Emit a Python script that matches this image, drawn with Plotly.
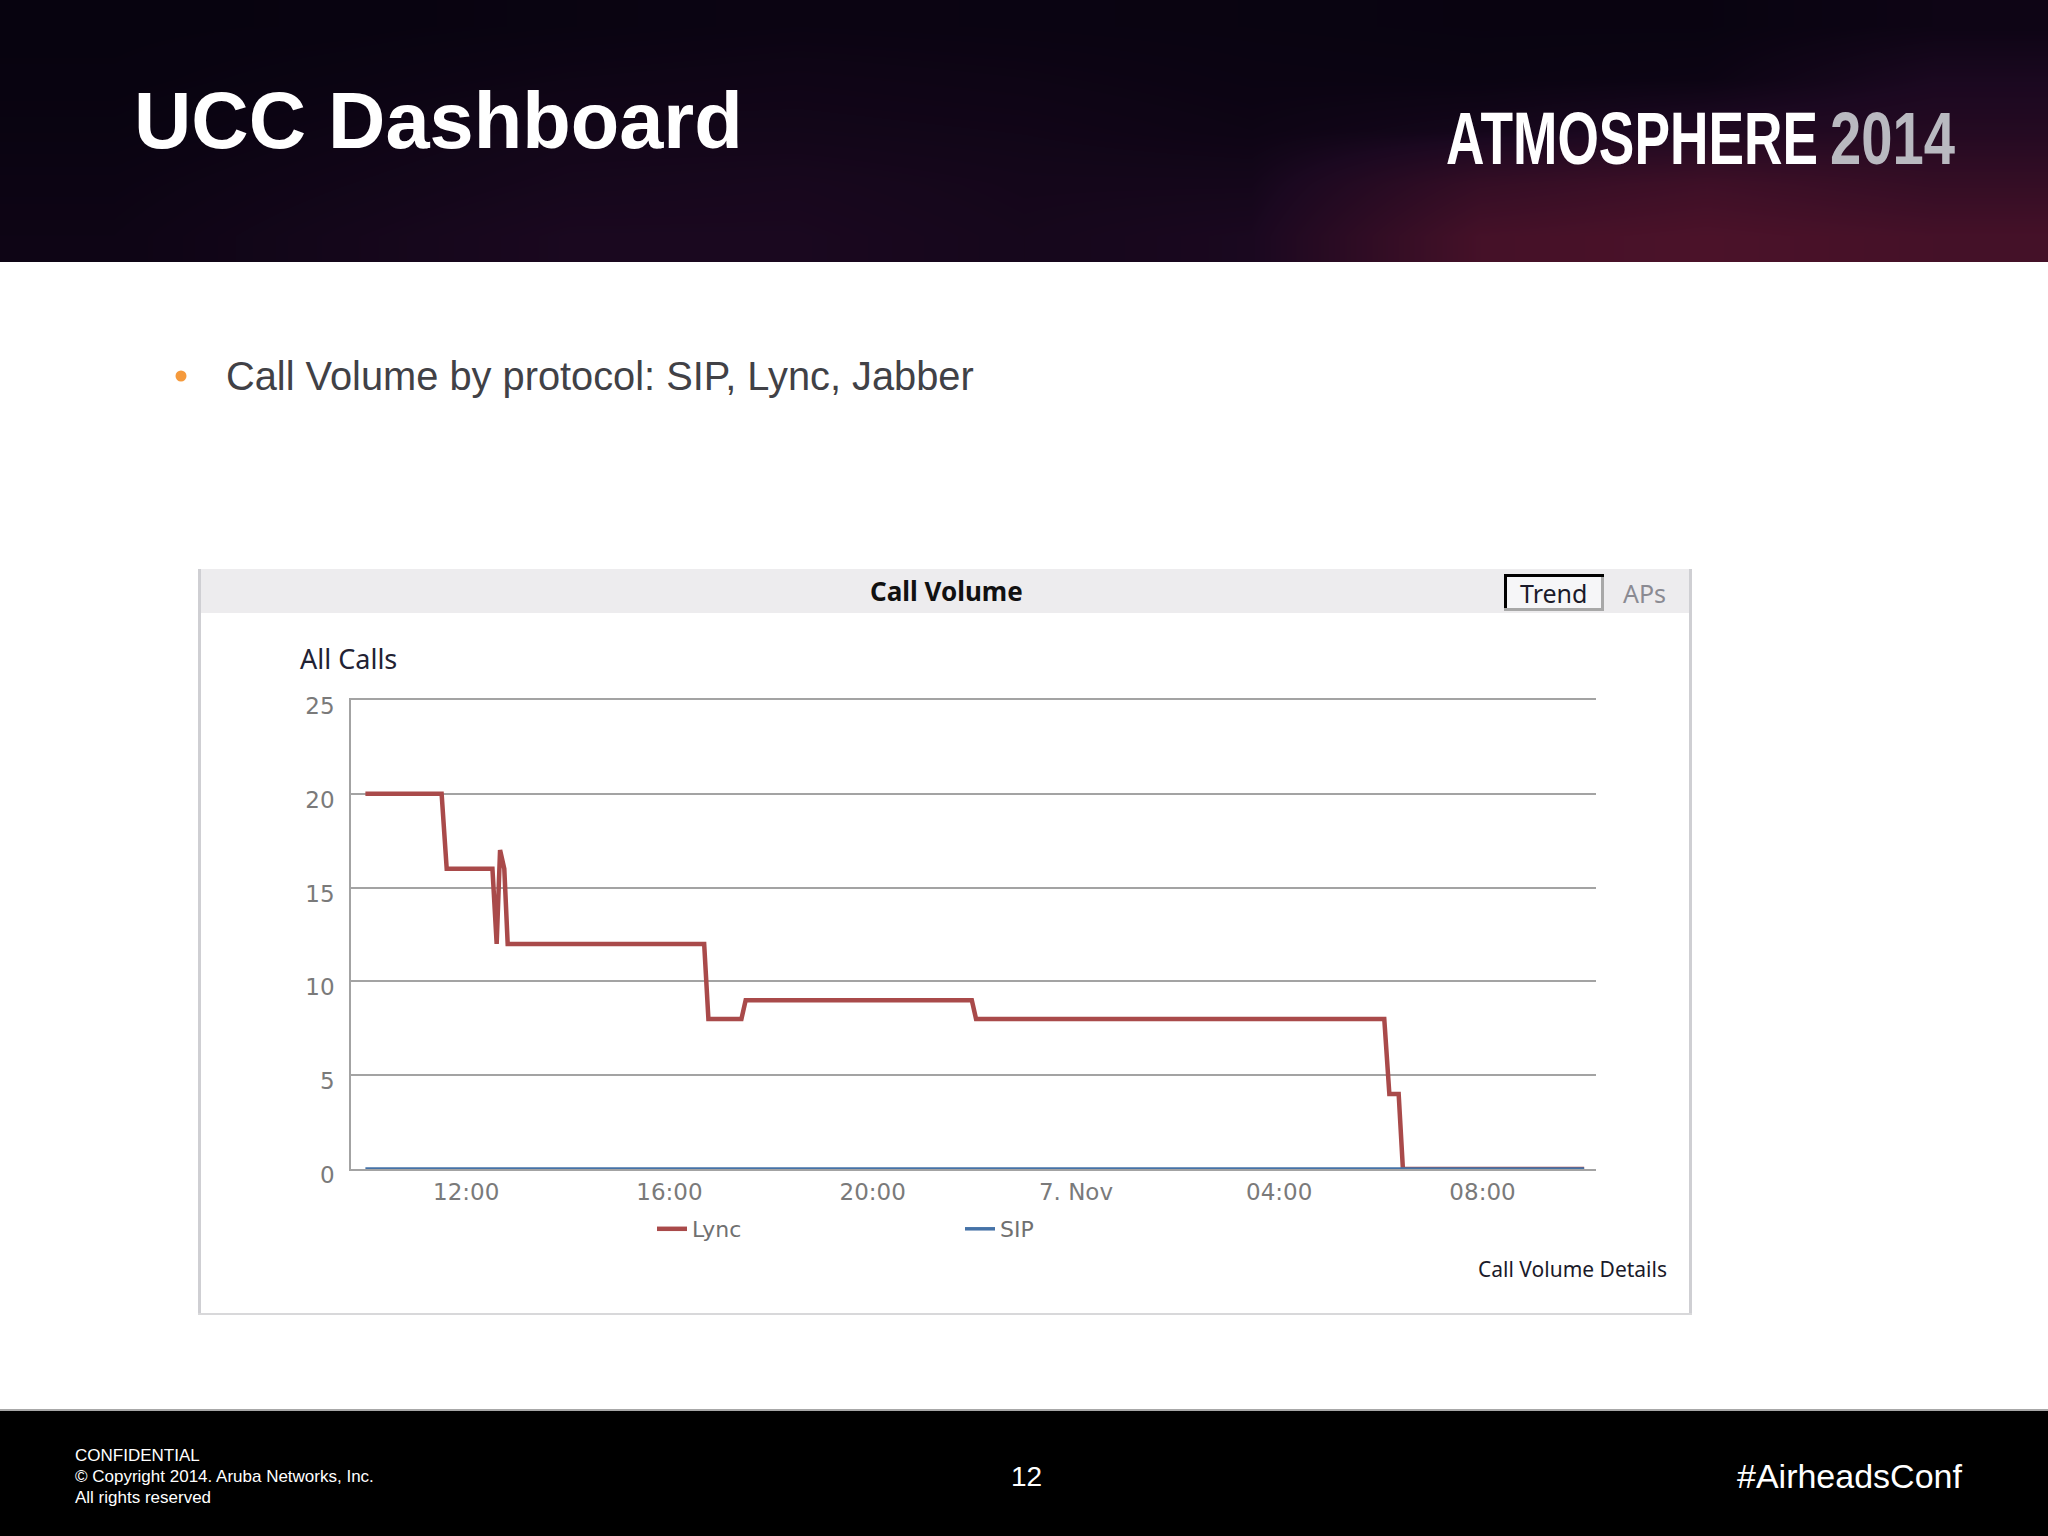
import plotly.graph_objects as go

W, H = 2048, 1536

# Call volume series
lync_times = [
    "2014-11-06 10:01", "2014-11-06 11:31", "2014-11-06 11:37", "2014-11-06 12:31",
    "2014-11-06 12:36", "2014-11-06 12:40", "2014-11-06 12:45", "2014-11-06 12:49",
    "2014-11-06 16:41", "2014-11-06 16:46", "2014-11-06 17:25", "2014-11-06 17:30",
    "2014-11-06 21:57", "2014-11-06 22:02", "2014-11-07 06:04", "2014-11-07 06:10",
    "2014-11-07 06:21", "2014-11-07 06:26", "2014-11-07 10:00",
]
lync_calls = [20, 20, 16, 16, 12, 17, 16, 12, 12, 8, 8, 9, 9, 8, 8, 4, 4, 0, 0]
sip_times = ["2014-11-06 10:01", "2014-11-07 10:00"]
sip_calls = [0, 0]

x_ticks = ["2014-11-06 12:00", "2014-11-06 16:00", "2014-11-06 20:00",
           "2014-11-07 00:00", "2014-11-07 04:00", "2014-11-07 08:00"]
x_labels = ["12:00", "16:00", "20:00", "7. Nov", "04:00", "08:00"]
y_ticks = [0, 5, 10, 15, 20, 25]

# Banner glow, rows top to bottom
banner_glow = [
    [0.02, 0.03, 0.05, 0.07, 0.06, 0.05, 0.04, 0.04, 0.10],
    [0.03, 0.06, 0.10, 0.12, 0.10, 0.07, 0.06, 0.08, 0.25],
    [0.05, 0.10, 0.16, 0.16, 0.14, 0.10, 0.18, 0.32, 0.40],
    [0.08, 0.14, 0.20, 0.22, 0.18, 0.18, 0.65, 0.80, 0.65],
    [0.10, 0.18, 0.25, 0.25, 0.20, 0.25, 0.90, 1.00, 0.90],
]

footer_lines = ["CONFIDENTIAL", "© Copyright 2014. Aruba Networks, Inc.", "All rights reserved"]

# Page style, and the logo type is a condensed face so squeeze it sideways
PAGE_JS = """
document.body.style.margin = '0';
var squeeze = {'ATMOSPHERE': 0.72, '2014': 0.76};
document.querySelectorAll('.annotation-text').forEach(function (t) {
    if (squeeze[t.textContent]) {
        t.style.transformBox = 'fill-box';
        t.style.transformOrigin = 'left center';
        t.style.transform = 'scaleX(' + squeeze[t.textContent] + ')';
    }
});
"""


def px(x):
    return x / W


def py(y):
    return 1 - y / H


def box(x0, y0, x1, y1, color):
    return dict(type="rect", xref="paper", yref="paper", x0=px(x0), x1=px(x1),
                y0=py(y0), y1=py(y1), fillcolor=color, line=dict(width=0))


def label(x, y, text, size, color, anchor="left", family="Liberation Sans", bold=False):
    if bold:
        text = f"<b>{text}</b>"
    return dict(xref="paper", yref="paper", x=px(x), y=py(y), text=text, showarrow=False,
                xanchor=anchor, yanchor="middle", align=anchor, borderpad=0,
                font=dict(family=family, size=size, color=color))


fig = go.Figure()

fig.add_trace(go.Heatmap(
    z=banner_glow, xaxis="x2", yaxis="y2", zsmooth="best", showscale=False, hoverinfo="skip",
    colorscale=[[0, "#07030f"], [0.25, "#1b0820"], [1, "#4b1229"]],
))
fig.add_trace(go.Scatter(x=lync_times, y=lync_calls, mode="lines", name="Lync",
                         line=dict(color="#a94a4a", width=4.5), cliponaxis=False))
fig.add_trace(go.Scatter(x=sip_times, y=sip_calls, mode="lines", name="SIP",
                         line=dict(color="#4572a7", width=3.5), cliponaxis=False))

shapes = [
    box(0, 1410, W, H, "#000000"),
    box(0, 1409, W, 1411, "#a8a8a8"),
    # panel
    box(198, 569, 1692, 613, "#edecee"),
    box(198, 569, 201, 1315, "#cfcfd3"),
    box(1689, 569, 1692, 1315, "#cfcfd3"),
    box(198, 1313, 1692, 1315, "#d8d8da"),
    # Trend button
    box(1504, 574, 1604, 611, "#f6f6f8"),
    box(1601, 574, 1604, 611, "#a8a8a8"),
    box(1504, 608, 1604, 611, "#a8a8a8"),
    box(1504, 574, 1604, 577, "#000000"),
    box(1504, 574, 1507, 608, "#000000"),
    # bullet
    dict(type="circle", xref="paper", yref="paper", x0=px(175.5), x1=px(186.5),
         y0=py(370.5), y1=py(381.5), fillcolor="#f59a3c", line=dict(width=0)),
]

annotations = [
    label(133, 120, "UCC Dashboard", 79.4, "#ffffff", bold=True),
    label(1445, 139, "ATMOSPHERE", 74, "#ffffff", bold=True),
    label(1829, 139, "2014", 74, "#b9b9c0", bold=True),
    label(225, 376, "Call Volume by protocol: SIP, Lync, Jabber", 39.8, "#414146"),
    label(946, 591, "Call Volume", 26, "#111111", "center", "Noto Sans", True),
    label(1553, 593, "Trend", 25, "#1a1a2a", "center", "Noto Sans"),
    label(1644, 593, "APs", 25, "#8a8a92", "center", "Noto Sans"),
    label(299, 658, "All Calls", 27, "#222233", family="Noto Sans"),
    label(1668, 1269, "Call Volume Details", 21, "#1a1a2a", "right", "Noto Sans"),
    label(1026, 1476, "12", 28, "#ffffff", "center"),
    label(1963, 1476, "#AirheadsConf", 34, "#ffffff", "right"),
]
for i, line in enumerate(footer_lines):
    annotations.append(label(74, 1455 + 21 * i, line, 17, "#ffffff"))

fig.update_layout(
    width=W, height=H, margin=dict(l=0, r=0, t=0, b=0, autoexpand=False),
    paper_bgcolor="#ffffff", plot_bgcolor="rgba(0,0,0,0)",
    shapes=shapes, annotations=annotations,
    legend=dict(orientation="h", x=px(652), y=py(1229), xanchor="left", yanchor="middle",
                entrywidth=263, entrywidthmode="pixels", bgcolor="rgba(0,0,0,0)",
                font=dict(family="DejaVu Sans", size=22, color="#707070")),
    xaxis=dict(domain=[px(351), px(1596)], anchor="y", type="date",
               range=["2014-11-06 09:44", "2014-11-07 10:14"],
               tickmode="array", tickvals=x_ticks, ticktext=x_labels,
               showgrid=False, showline=True, mirror=True, linecolor="#a3a3a3", linewidth=1.5,
               zeroline=False, ticks="", ticklabelstandoff=2,
               tickfont=dict(family="DejaVu Sans", size=23, color="#7a7a7a")),
    yaxis=dict(domain=[py(1169), py(700)], anchor="x", range=[0, 25],
               tickmode="array", tickvals=y_ticks,
               showgrid=True, gridcolor="#a3a3a3", gridwidth=1.5,
               showline=True, linecolor="#a3a3a3", linewidth=1.5, zeroline=False, ticks="",
               ticklabelstandoff=10, ticklabelshift=6,
               tickfont=dict(family="DejaVu Sans", size=23, color="#7a7a7a")),
    xaxis2=dict(domain=[0, 1], anchor="y2", visible=False, fixedrange=True),
    yaxis2=dict(domain=[py(262), 1], anchor="x2", visible=False, fixedrange=True,
                autorange="reversed"),
)

fig.write_html("out.html", config=dict(displayModeBar=False), post_script=PAGE_JS)
